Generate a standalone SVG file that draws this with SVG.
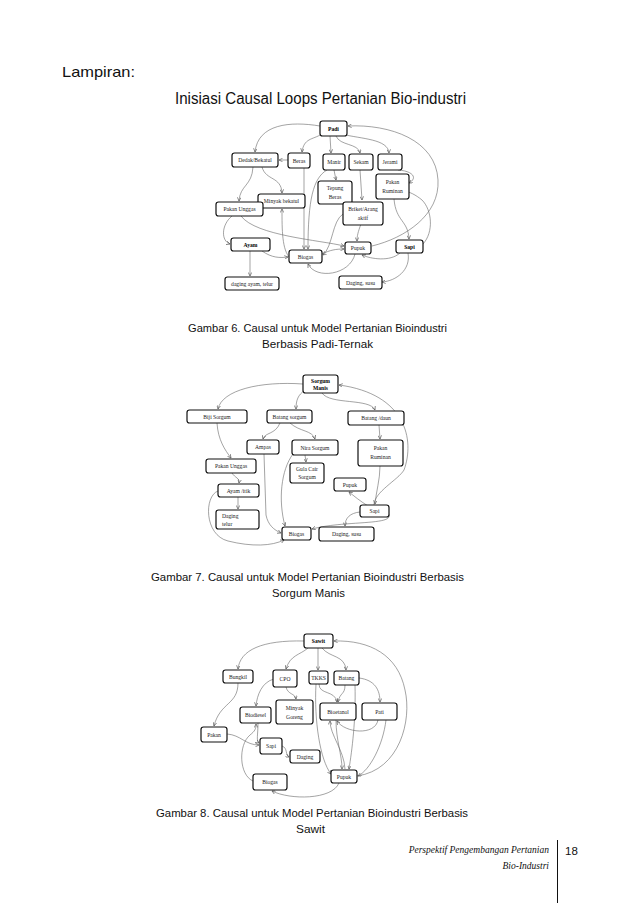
<svg xmlns="http://www.w3.org/2000/svg" width="638" height="903" viewBox="0 0 638 903">
<style>
.pg{font-family:"Liberation Sans",Arial,sans-serif;fill:#111}
.n rect{fill:#fff;stroke:#111;stroke-width:1.2}
.n text{font-family:"Liberation Serif","Times New Roman",serif;font-size:5.6px;fill:#222;text-anchor:middle}
.n text.b{font-weight:bold;fill:#000}
.c path{fill:none;stroke:#666;stroke-width:0.6;marker-end:url(#a)}
.ft{font-family:"Liberation Serif","Times New Roman",serif;font-style:italic;font-size:9.5px;fill:#111;text-anchor:end}
</style>
<defs>
<marker id="a" viewBox="0 0 10 10" refX="9" refY="5" markerWidth="4" markerHeight="4" orient="auto" markerUnits="userSpaceOnUse">
<path d="M0,0.5 L9,5 L0,9.5" fill="none" stroke="#555" stroke-width="1.6"/>
</marker>
</defs>
<rect width="638" height="903" fill="#fff"/>

<text class="pg" x="62" y="77" font-size="14.5" textLength="73" lengthAdjust="spacingAndGlyphs">Lampiran:</text>
<text class="pg" x="175" y="104" font-size="16" textLength="291" lengthAdjust="spacingAndGlyphs">Inisiasi Causal Loops Pertanian Bio-industri</text>

<!-- ===== Diagram 1 connectors ===== -->
<g id="connectors-1" class="c">
<path d="M320,126 C290,121 258,124 255,152"/>
<path d="M322,134 C312,140 304,138 302,152"/>
<path d="M330,136 L331,153"/>
<path d="M336,136 C340,146 358,143 360,153"/>
<path d="M341,134 C362,139 388,139 389,153"/>
<path d="M288,160 L279,160"/>
<path d="M262,167 C266,181 281,176 282,193"/>
<path d="M253,167 C252,186 240,185 239,201"/>
<path d="M334,170 L336,180"/>
<path d="M398,170 C413,171 418,178 409,183"/>
<path d="M360,170 L362,200"/>
<path d="M304,168 L304,249"/>
<path d="M327,170 C313,178 308,200 308,249"/>
<path d="M290,258 C282,250 282,230 282,209"/>
<path d="M232,216 C221,225 221,241 230,244"/>
<path d="M241,216 C256,236 320,240 344,246"/>
<path d="M250,251 L250,276"/>
<path d="M262,251 C272,258 280,258 288,257"/>
<path d="M361,224 C358,232 357,236 357,241"/>
<path d="M343,214 C332,221 333,246 323,255"/>
<path d="M394,199 C396,222 408,220 409,239"/>
<path d="M372,246 C405,238 440,215 438,180 C436,140 390,124 348,126"/>
<path d="M423,244 C434,232 432,210 422,200 C410,190 395,186 384,196"/>
<path d="M400,253 C390,262 371,259 362,255"/>
<path d="M408,253 C411,270 396,281 382,282"/>
<path d="M355,254 C350,275 316,280 308,264"/>
<path d="M322,254 C330,250 336,249 344,249"/>
</g>

<!-- ===== Diagram 1 nodes ===== -->
<g id="d1-padi" class="n"><rect x="320" y="121" width="27" height="15" rx="2.5"/><text class="b" x="333.5" y="130.5">Padi</text></g>
<g id="d1-dedak" class="n"><rect x="232" y="153" width="46" height="14" rx="2.5"/><text x="255" y="162">Dedak/Bekatul</text></g>
<g id="d1-beras" class="n"><rect x="288" y="153" width="22" height="15" rx="2.5"/><text x="299" y="162.5">Beras</text></g>
<g id="d1-manir" class="n"><rect x="323" y="154" width="22" height="16" rx="2.5"/><text x="334" y="164">Manir</text></g>
<g id="d1-sekam" class="n"><rect x="349" y="154" width="24" height="16" rx="2.5"/><text x="361" y="164">Sekam</text></g>
<g id="d1-jerami" class="n"><rect x="378" y="154" width="24" height="16" rx="2.5"/><text x="390" y="164">Jerami</text></g>
<g id="d1-pakanruminan" class="n"><rect x="376" y="174" width="33" height="25" rx="2.5"/><text x="392.5" y="184">Pakan</text><text x="392.5" y="193">Ruminan</text></g>
<g id="d1-tepung" class="n"><rect x="318" y="181" width="34" height="23" rx="2.5"/><text x="335" y="190">Tepung</text><text x="335" y="199">Beras</text></g>
<g id="d1-briket" class="n"><rect x="343" y="202" width="40" height="23" rx="2.5"/><text x="363" y="211">Briket/Arang</text><text x="363" y="220">aktif</text></g>
<g id="d1-minyak" class="n"><rect x="258" y="194" width="47" height="14" rx="2.5"/><text x="281.5" y="203">Minyak bekatul</text></g>
<g id="d1-pakanunggas" class="n"><rect x="216" y="202" width="47" height="14" rx="2.5"/><text x="239.5" y="211">Pakan Unggas</text></g>
<g id="d1-ayam" class="n"><rect x="231" y="238" width="39" height="13" rx="2.5"/><text class="b" x="250.5" y="246.5">Ayam</text></g>
<g id="d1-biogas" class="n"><rect x="289" y="250" width="33" height="13" rx="2.5"/><text x="305.5" y="258.5">Biogas</text></g>
<g id="d1-dagingayam" class="n"><rect x="225" y="277" width="54" height="13" rx="2.5"/><text x="252" y="285.5">daging ayam, telur</text></g>
<g id="d1-pupuk" class="n"><rect x="345" y="242" width="26" height="12" rx="2.5"/><text x="358" y="250">Pupuk</text></g>
<g id="d1-sapi" class="n"><rect x="396" y="240" width="27" height="13" rx="2.5"/><text class="b" x="409.5" y="248.5">Sapi</text></g>
<g id="d1-dagingsusu" class="n"><rect x="339" y="276" width="43" height="13" rx="2.5"/><text x="360.5" y="284.5">Daging, susu</text></g>

<text class="pg" x="188" y="332" font-size="11" textLength="259" lengthAdjust="spacingAndGlyphs">Gambar 6. Causal untuk Model Pertanian Bioindustri</text>
<text class="pg" x="262" y="348" font-size="11" textLength="111" lengthAdjust="spacingAndGlyphs">Berbasis Padi-Ternak</text>

<!-- ===== Diagram 2 connectors ===== -->
<g id="connectors-2" class="c">
<path d="M303,384 C260,381 222,390 218,409"/>
<path d="M305,390 C298,395 296,400 296,409"/>
<path d="M322,393 C330,405 370,398 375,410"/>
<path d="M374,505 C374,492 398,480 404,470 C415,440 406,394 339,385"/>
<path d="M280,423 C275,435 265,432 263,439"/>
<path d="M290,423 C300,432 312,430 315,439"/>
<path d="M379,425 L380,439"/>
<path d="M217,423 C218,440 225,450 231,458"/>
<path d="M232,473 C235,478 240,478 239,483"/>
<path d="M238,497 L238,509"/>
<path d="M218,491 C204,496 204,535 228,541 C252,547 272,546 284,540"/>
<path d="M264,454 L266,515 C268,525 274,530 281,533"/>
<path d="M293,454 C281,470 278,500 285,526"/>
<path d="M305,455 L306,462"/>
<path d="M380,466 C380,480 376,492 375,504"/>
<path d="M368,506 C360,501 354,496 349,492"/>
<path d="M360,512 C350,513 345,518 345,526"/>
<path d="M388,513 C398,526 345,520 312,529"/>
</g>

<!-- ===== Diagram 2 nodes ===== -->
<g id="d2-sorgum" class="n"><rect x="303" y="375" width="35" height="18" rx="2.5"/><text class="b" x="320.5" y="382.5">Sorgum</text><text class="b" x="320.5" y="389.5">Manis</text></g>
<g id="d2-biji" class="n"><rect x="187" y="410" width="60" height="13" rx="2.5"/><text x="217" y="418.5">Biji Sorgum</text></g>
<g id="d2-batangsorgum" class="n"><rect x="267" y="410" width="45" height="13" rx="2.5"/><text x="289.5" y="418.5">Batang sorgum</text></g>
<g id="d2-batangdaun" class="n"><rect x="348" y="411" width="56" height="14" rx="2.5"/><text x="376" y="420">Batang /daun</text></g>
<g id="d2-ampas" class="n"><rect x="247" y="440" width="32" height="14" rx="2.5"/><text x="263" y="449">Ampas</text></g>
<g id="d2-nira" class="n"><rect x="292" y="440" width="46" height="15" rx="2.5"/><text x="315" y="449.5">Nira Sorgum</text></g>
<g id="d2-pakanruminan" class="n"><rect x="358" y="440" width="45" height="26" rx="2.5"/><text x="380.5" y="450">Pakan</text><text x="380.5" y="459">Ruminan</text></g>
<g id="d2-pakanunggas" class="n"><rect x="206" y="459" width="50" height="14" rx="2.5"/><text x="231" y="468">Pakan Unggas</text></g>
<g id="d2-gula" class="n"><rect x="290" y="463" width="34" height="20" rx="2.5"/><text x="307" y="471">Gula Cair</text><text x="307" y="479">Sorgum</text></g>
<g id="d2-pupuk" class="n"><rect x="334" y="478" width="32" height="13" rx="2.5"/><text x="350" y="486.5">Pupuk</text></g>
<g id="d2-ayam" class="n"><rect x="218" y="484" width="41" height="13" rx="2.5"/><text x="238.5" y="492.5">Ayam /itik</text></g>
<g id="d2-sapi" class="n"><rect x="360" y="505" width="29" height="12" rx="2.5"/><text x="374.5" y="513">Sapi</text></g>
<g id="d2-dagingtelur" class="n"><rect x="216" y="510" width="43" height="19" rx="2.5"/><text x="222" y="518" style="text-anchor:start">Daging</text><text x="222" y="526" style="text-anchor:start">telur</text></g>
<g id="d2-biogas" class="n"><rect x="282" y="527" width="29" height="13" rx="2.5"/><text x="296.5" y="535.5">Biogas</text></g>
<g id="d2-dagingsusu" class="n"><rect x="319" y="527" width="55" height="14" rx="2.5"/><text x="346.5" y="536">Daging, susu</text></g>

<text class="pg" x="151" y="581" font-size="11" textLength="313" lengthAdjust="spacingAndGlyphs">Gambar 7. Causal untuk Model Pertanian Bioindustri Berbasis</text>
<text class="pg" x="272" y="597" font-size="11" textLength="73" lengthAdjust="spacingAndGlyphs">Sorgum Manis</text>

<!-- ===== Diagram 3 connectors ===== -->
<g id="connectors-3" class="c">
<path d="M304,641 C262,640 240,650 238,669"/>
<path d="M308,648 C300,655 290,655 286,669"/>
<path d="M318,648 L318,670"/>
<path d="M322,648 C330,658 345,655 346,670"/>
<path d="M357,776 C400,770 412,720 405,690 C398,655 370,640 334,641"/>
<path d="M238,683 C238,705 220,702 214,726"/>
<path d="M274,679 C262,682 257,695 256,706"/>
<path d="M286,687 C288,695 295,693 296,699"/>
<path d="M319,684 C319,695 335,690 337,702"/>
<path d="M345,685 C345,695 340,692 338,702"/>
<path d="M359,678 C375,680 380,690 380,702"/>
<path d="M378,720 C375,736 345,733 337,721"/>
<path d="M316,684 C314,720 320,760 331,774"/>
<path d="M355,685 C356,720 352,750 349,769"/>
<path d="M386,720 C383,745 370,770 358,776"/>
<path d="M336,720 C336,740 342,755 342,769"/>
<path d="M345,769 C344,750 330,735 330,721"/>
<path d="M227,734 C241,735 245,745 259,745"/>
<path d="M282,746 C288,748 285,755 289,757"/>
<path d="M253,781 C239,775 238,745 250,735 C255,731 256,729 256,724"/>
<path d="M258,723 C258,735 256,741 259,743"/>
<path d="M339,783 C332,800 290,800 272,791"/>
</g>

<!-- ===== Diagram 3 nodes ===== -->
<g id="d3-sawit" class="n"><rect x="304" y="634" width="29" height="14" rx="2.5"/><text class="b" x="318.5" y="643">Sawit</text></g>
<g id="d3-bungkil" class="n"><rect x="223" y="670" width="30" height="13" rx="2.5"/><text x="238" y="678.5">Bungkil</text></g>
<g id="d3-cpo" class="n"><rect x="273" y="670" width="24" height="17" rx="2.5"/><text x="285" y="680.5">CPO</text></g>
<g id="d3-tkks" class="n"><rect x="309" y="671" width="19" height="13" rx="2.5"/><text x="318.5" y="679.5">TKKS</text></g>
<g id="d3-batang" class="n"><rect x="334" y="671" width="25" height="14" rx="2.5"/><text x="346.5" y="680">Batang</text></g>
<g id="d3-minyak" class="n"><rect x="276" y="700" width="37" height="24" rx="2.5"/><text x="294.5" y="709.5">Minyak</text><text x="294.5" y="718.5">Goreng</text></g>
<g id="d3-biodiesel" class="n"><rect x="240" y="707" width="31" height="16" rx="2.5"/><text x="255.5" y="717">Biodiesel</text></g>
<g id="d3-bioetanol" class="n"><rect x="320" y="703" width="36" height="17" rx="2.5"/><text x="338" y="713.5">Bioetanol</text></g>
<g id="d3-pati" class="n"><rect x="362" y="703" width="35" height="17" rx="2.5"/><text x="379.5" y="713.5">Pati</text></g>
<g id="d3-pakan" class="n"><rect x="201" y="727" width="26" height="15" rx="2.5"/><text x="214" y="736.5">Pakan</text></g>
<g id="d3-sapi" class="n"><rect x="260" y="738" width="22" height="16" rx="2.5"/><text x="271" y="748">Sapi</text></g>
<g id="d3-daging" class="n"><rect x="290" y="750" width="30" height="13" rx="2.5"/><text x="305" y="758.5">Daging</text></g>
<g id="d3-biogas" class="n"><rect x="253" y="774" width="34" height="16" rx="2.5"/><text x="270" y="784">Biogas</text></g>
<g id="d3-pupuk" class="n"><rect x="331" y="770" width="26" height="13" rx="2.5"/><text x="344" y="778.5">Pupuk</text></g>

<text class="pg" x="156" y="817" font-size="11" textLength="312" lengthAdjust="spacingAndGlyphs">Gambar 8. Causal untuk Model Pertanian Bioindustri Berbasis</text>
<text class="pg" x="296" y="833" font-size="11" textLength="29" lengthAdjust="spacingAndGlyphs">Sawit</text>

<text class="ft" x="549" y="853">Perspektif Pengembangan Pertanian</text>
<text class="ft" x="549" y="869">Bio-Industri</text>
<line x1="557.5" y1="840" x2="557.5" y2="903" stroke="#111" stroke-width="1"/>
<text class="pg" x="565" y="855" font-size="11.5">18</text>
</svg>
